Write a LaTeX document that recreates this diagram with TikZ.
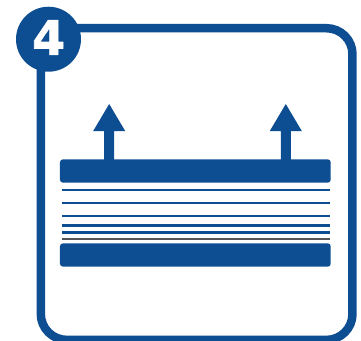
\documentclass[tikz,border=0pt]{standalone}
\usepackage{fontspec}
\setmainfont{DejaVu Sans}
\newfontfamily\badgefont[FakeBold=1.5]{DejaVu Sans Bold}
\usepackage{xcolor}
\definecolor{frameblue}{RGB}{13, 77, 146}
\definecolor{darkline}{RGB}{85, 85, 85}
\begin{document}
\begin{tikzpicture}[x=0.1cm, y=-0.1cm]
        \useasboundingbox (0,0) rectangle (36.1,34.1);
        \fill[white] (0,0) rectangle (36.1,34.1);
        \draw[frameblue, line width=0.85mm, rounded corners=2.6mm] (4.08,2.82) rectangle (35.25,33.99);
        % arrows
        \foreach \x in {10.92, 28.58} {
            \fill[frameblue] (\x-0.5, 16.2) -- (\x-0.5, 13.1) -- (\x-1.6, 13.1) -- (\x, 10.4) -- (\x+1.6, 13.1) -- (\x+0.5, 13.1) -- (\x+0.5, 16.2) -- cycle;
        }
        % bars
        \fill[frameblue, rounded corners=0.3mm] (6,15.93) rectangle (33.07,18.27);
        \fill[frameblue, rounded corners=0.3mm] (6,24.33) rectangle (33.07,26.67);
        % lines
        \foreach \y in {18.97, 20.27, 21.6, 22.53, 23.23} {
            \draw[frameblue, line width=0.24mm] (6.2,\y) -- (33,\y);
        }
        \draw[darkline, line width=0.24mm] (6.2,23.87) -- (33,23.87);
        \node[circle, fill=frameblue, minimum size=6.5mm, inner sep=0pt] (badge) at (4.85,3.92) {};
        \node[text=white, font=\fontsize{13.5}{13.5}\selectfont\badgefont, inner sep=0pt] (badgenum) at (4.87,3.75) {4};
    \end{tikzpicture}
\end{document}
